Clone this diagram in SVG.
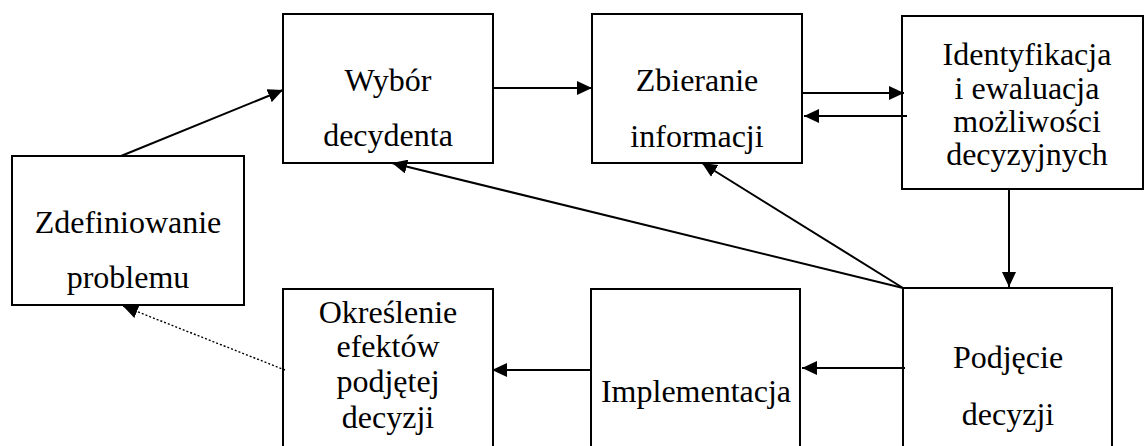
<svg xmlns="http://www.w3.org/2000/svg" width="1145" height="446" viewBox="0 0 1145 446">
  <style>
    .box { fill: #ffffff; stroke: #000000; stroke-width: 2; }
    .lbl { font-family: 'Liberation Serif', 'DejaVu Serif', serif; font-size: 32px; fill: #000000; text-anchor: middle; }
    .link { stroke: #000000; stroke-width: 2; fill: none; marker-end: url(#arrow); }
    .dotted { stroke: #000000; stroke-width: 1.4; fill: none; stroke-dasharray: 2 2; marker-end: url(#arrow); }
  </style>
  <defs>
    <marker id="arrow" markerUnits="userSpaceOnUse" markerWidth="16" markerHeight="14" refX="15" refY="7" orient="auto">
      <path d="M0,0 L15,7 L0,14 Z" fill="#000000"/>
    </marker>
  </defs>
  <rect width="1145" height="446" fill="#ffffff"/>

  <g id="node-zdefiniowanie">
    <rect class="box" x="12" y="156" width="232" height="149"/>
    <text class="lbl" x="128" y="233">Zdefiniowanie</text>
    <text class="lbl" x="128" y="288">problemu</text>
  </g>

  <g id="node-wybor">
    <rect class="box" x="283" y="14" width="210" height="149"/>
    <text class="lbl" x="388" y="91">Wybór</text>
    <text class="lbl" x="388" y="146">decydenta</text>
  </g>

  <g id="node-zbieranie">
    <rect class="box" x="592" y="14" width="210" height="149"/>
    <text class="lbl" x="697" y="91">Zbieranie</text>
    <text class="lbl" x="697" y="147">informacji</text>
  </g>

  <g id="node-identyfikacja">
    <rect class="box" x="902" y="16" width="241" height="173"/>
    <text class="lbl" x="1027" y="65">Identyfikacja</text>
    <text class="lbl" x="1027" y="99">i ewaluacja</text>
    <text class="lbl" x="1027" y="132">możliwości</text>
    <text class="lbl" x="1027" y="165">decyzyjnych</text>
  </g>

  <g id="node-podjecie">
    <rect class="box" x="903" y="288" width="209" height="180"/>
    <text class="lbl" x="1008" y="368">Podjęcie</text>
    <text class="lbl" x="1008" y="425">decyzji</text>
  </g>

  <g id="node-implementacja">
    <rect class="box" x="591" y="289" width="209" height="180"/>
    <text class="lbl" x="696" y="402">Implementacja</text>
  </g>

  <g id="node-okreslenie">
    <rect class="box" x="283" y="289" width="210" height="180"/>
    <text class="lbl" x="388" y="323">Określenie</text>
    <text class="lbl" x="388" y="357">efektów</text>
    <text class="lbl" x="388" y="392">podjętej</text>
    <text class="lbl" x="388" y="428">decyzji</text>
  </g>

  <g id="connectors">
    <line class="link" x1="121" y1="156" x2="283" y2="90"/>
    <line class="link" x1="493" y1="88" x2="592" y2="88"/>
    <line class="link" x1="802" y1="93" x2="904" y2="93"/>
    <line class="link" x1="907" y1="116" x2="804" y2="116"/>
    <line class="link" x1="1009" y1="189" x2="1009" y2="287"/>
    <line class="link" x1="903" y1="288" x2="392" y2="163"/>
    <line class="link" x1="903" y1="288" x2="702" y2="163"/>
    <line class="link" x1="905" y1="368" x2="802" y2="368"/>
    <line class="link" x1="591" y1="370" x2="492" y2="370"/>
    <line class="dotted" x1="285" y1="370" x2="123" y2="306"/>
  </g>
</svg>
